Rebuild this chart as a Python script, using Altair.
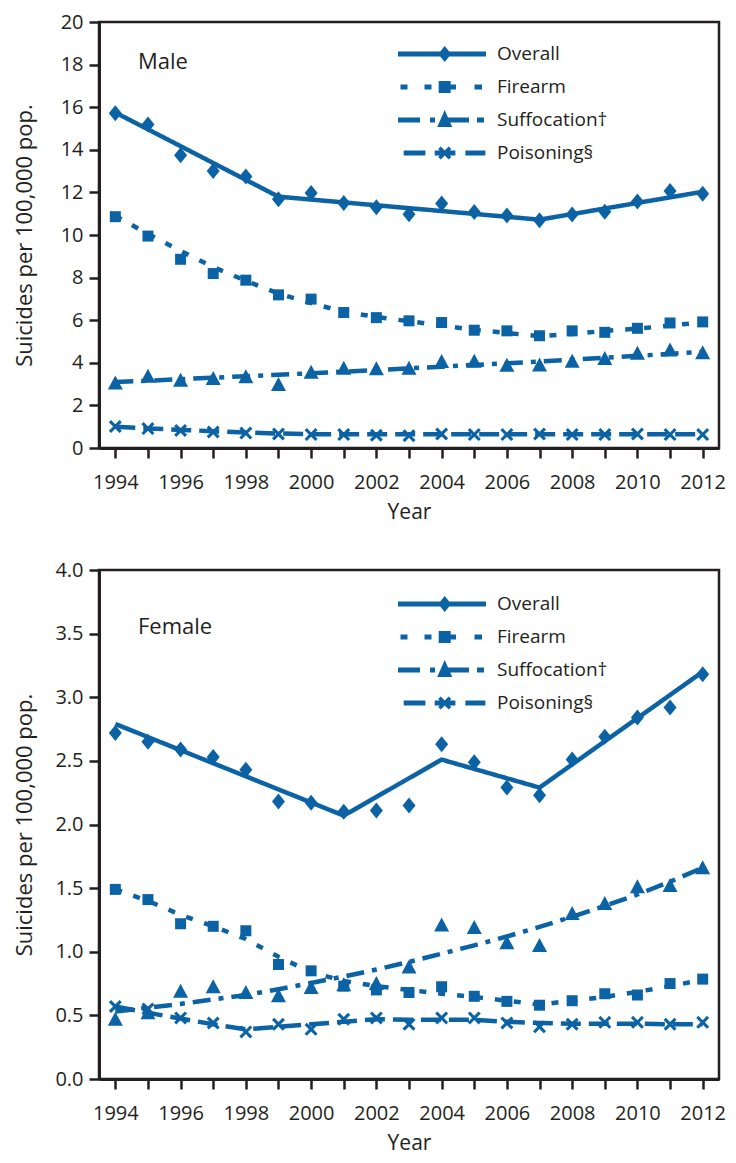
import altair as alt
import pandas as pd

# ---------------- data ----------------
YEARS = list(range(1994, 2013))
SERIES = ["Overall", "Firearm", "Suffocation\u2020", "Poisoning\u00a7"]

# Male, observed rates
male_overall = [15.72, 15.19, 13.75, 13.0, 12.75, 11.68, 11.97, 11.5, 11.3, 10.97, 11.48, 11.08, 10.92, 10.69, 10.96, 11.09, 11.57, 12.06, 11.94]
male_firearm = [10.86, 9.95, 8.86, 8.19, 7.88, 7.19, 6.99, 6.36, 6.12, 5.97, 5.89, 5.53, 5.5, 5.27, 5.5, 5.43, 5.62, 5.87, 5.92]
male_suffocation = [3.05, 3.37, 3.18, 3.26, 3.34, 2.98, 3.56, 3.75, 3.72, 3.75, 4.06, 4.07, 3.88, 3.9, 4.07, 4.2, 4.45, 4.6, 4.47]
male_poisoning = [1.01, 0.91, 0.82, 0.75, 0.7, 0.66, 0.63, 0.63, 0.6, 0.58, 0.66, 0.63, 0.63, 0.66, 0.63, 0.63, 0.66, 0.63, 0.63]

# Male, fitted trends
male_overall_trend_years = [1994, 1999, 2007, 2012]
male_overall_trend = [15.75, 11.8, 10.72, 12.03]
male_firearm_trend = [10.9, 10.05, 9.25, 8.5, 7.85, 7.25, 6.8, 6.4, 6.15, 5.95, 5.75, 5.55, 5.4, 5.25, 5.35, 5.5, 5.6, 5.75, 5.9]
male_suffocation_trend = [3.1, 3.16, 3.23, 3.3, 3.37, 3.44, 3.51, 3.58, 3.66, 3.74, 3.82, 3.9, 3.98, 4.06, 4.15, 4.24, 4.33, 4.42, 4.52]
male_poisoning_trend = [1.0, 0.92, 0.85, 0.79, 0.73, 0.68, 0.65, 0.645, 0.645, 0.64, 0.64, 0.64, 0.64, 0.64, 0.64, 0.64, 0.64, 0.64, 0.64]

# Female, observed rates
female_overall = [2.72, 2.65, 2.59, 2.53, 2.43, 2.18, 2.17, 2.1, 2.11, 2.15, 2.63, 2.49, 2.29, 2.23, 2.51, 2.69, 2.84, 2.92, 3.18]
female_firearm = [1.49, 1.41, 1.22, 1.2, 1.165, 0.9, 0.85, 0.73, 0.7, 0.68, 0.725, 0.65, 0.61, 0.58, 0.615, 0.67, 0.66, 0.75, 0.785]
female_suffocation = [0.47, 0.52, 0.69, 0.725, 0.68, 0.655, 0.72, 0.74, 0.75, 0.88, 1.21, 1.19, 1.07, 1.05, 1.3, 1.38, 1.51, 1.52, 1.66]
female_poisoning = [0.57, 0.55, 0.48, 0.44, 0.37, 0.43, 0.39, 0.47, 0.48, 0.43, 0.48, 0.48, 0.44, 0.41, 0.43, 0.445, 0.445, 0.43, 0.445]

# Female, fitted trends
female_overall_trend_years = [1994, 2001, 2004, 2007, 2012]
female_overall_trend = [2.79, 2.07, 2.51, 2.29, 3.2]
female_firearm_trend = [1.49, 1.4, 1.29, 1.2, 1.1, 0.96, 0.84, 0.77, 0.73, 0.7, 0.67, 0.645, 0.615, 0.585, 0.615, 0.645, 0.685, 0.73, 0.78]
female_suffocation_trend = [0.53, 0.56, 0.59, 0.625, 0.66, 0.705, 0.755, 0.805, 0.86, 0.92, 0.985, 1.05, 1.12, 1.195, 1.275, 1.36, 1.45, 1.55, 1.66]
female_poisoning_trend = [0.57, 0.52, 0.475, 0.43, 0.39, 0.41, 0.43, 0.45, 0.47, 0.465, 0.465, 0.465, 0.45, 0.44, 0.435, 0.435, 0.435, 0.43, 0.43]

# ---------------- styling ----------------
BLUE = "#0b62a5"
INK = "#231f20"
FONT = "Open Sans"
PLOT_W = 620


def n(v):
    return f"{v:.4f}".rstrip("0").rstrip(".")


def p_rect(x0, x1, hh, u, ox):
    X = lambda x: n((x - ox) / u)
    return f"M{X(x0)},{n(-hh / u)}H{X(x1)}V{n(hh / u)}H{X(x0)}Z"


def p_diamond(cx, hw, hh, u, ox):
    c = (cx - ox) / u
    return (f"M{n(c)},{n(-hh / u)}L{n(c + hw / u)},0L{n(c)},{n(hh / u)}"
            f"L{n(c - hw / u)},0Z")


def p_square(cx, h, u, ox):
    return p_rect(cx - h, cx + h, h, u, ox)


def p_tri(cx, hw, top, bottom, u, ox):
    c = (cx - ox) / u
    return (f"M{n(c)},{n(-top / u)}L{n(c + hw / u)},{n(bottom / u)}"
            f"L{n(c - hw / u)},{n(bottom / u)}Z")


def p_x(cx, h, d, u, ox):
    c = (cx - ox) / u
    a, b = h / u, d / u
    pts = [(-a, -a + b), (-a + b, -a), (0, -b), (a - b, -a), (a, -a + b), (b, 0),
           (a, a - b), (a - b, a), (0, b), (-a + b, a), (-a, a - b), (-b, 0)]
    return "M" + "L".join(f"{n(c + px)},{n(py)}" for px, py in pts) + "Z"


# chart markers (all drawn with size 225 -> 7.5 px per path unit)
MU = 7.5
MARKERS = [
    p_diamond(0, 6.5, 8, MU, 0),
    p_square(0, 5.5, MU, 0),
    p_tri(0, 7.5, 7.5, 6.5, MU, 0),
    p_x(0, 6.5, 2.2, MU, 0),
]

# legend symbols: an 88 px line sample with its marker, drawn from a 20 px symbol
# (size 400 -> 10 px per path unit, symbol centre 10 px from the entry's left edge)
LS = 20
LU = LS / 2
OX = LS / 2
T = 2.6
LEGEND_SYMBOLS = [
    p_rect(0, 88, T, LU, OX) + p_diamond(46.7, 6.5, 8, LU, OX),
    p_rect(2.5, 9.5, T, LU, OX) + p_rect(26.5, 33.5, T, LU, OX) + p_rect(51, 58, T, LU, OX)
    + p_rect(76.5, 84, T, LU, OX) + p_square(46.7, 6, LU, OX),
    p_rect(0, 22, T, LU, OX) + p_rect(32, 37, T, LU, OX) + p_rect(47, 71, T, LU, OX)
    + p_rect(79, 86, T, LU, OX) + p_tri(46.7, 7.5, 10, 7, LU, OX),
    p_rect(5.7, 27.4, T, LU, OX) + p_rect(36.7, 57.4, T, LU, OX) + p_rect(67.4, 87.4, T, LU, OX)
    + p_x(46.7, 6.5, 2.5, LU, OX),
]

DASHES = [[1, 0], [7, 12], [18, 8, 5, 8], [20, 8]]


def long_points(cols):
    rows = []
    for s, vals in zip(SERIES, cols):
        for yr, v in zip(YEARS, vals):
            rows.append({"year": yr, "value": v, "series": s})
    return pd.DataFrame(rows)


def long_trends(overall_years, overall_vals, others):
    rows = [{"year": yr, "value": v, "series": SERIES[0]} for yr, v in zip(overall_years, overall_vals)]
    for s, vals in zip(SERIES[1:], others):
        for yr, v in zip(YEARS, vals):
            rows.append({"year": yr, "value": v, "series": s})
    return pd.DataFrame(rows)


def panel(points, trends, label, y_max, y_step, y_fmt, height, title_dy, legend_y):
    y_vals = [round(i * y_step, 2) for i in range(int(round(y_max / y_step)) + 1)]
    x = alt.X(
        "year:Q",
        scale=alt.Scale(domain=[1993.5, 2012.5], nice=False, zero=False),
        axis=alt.Axis(values=YEARS, format="d", title="Year",
                      labelExpr="datum.value % 2 == 0 ? datum.label : ''",
                      labelFlush=False, labelOverlap=False, labelPadding=14,
                      titlePadding=9),
    )
    y = alt.Y(
        "value:Q",
        scale=alt.Scale(domain=[0, y_max], nice=False, zero=True),
        axis=alt.Axis(values=y_vals, format=y_fmt, title="Suicides per 100,000 pop.",
                      labelPadding=6, titleX=-75, titleY=height / 2,
                      titleBaseline="middle", titleAlign="center", titleAngle=270),
    )
    lines = alt.Chart(trends).mark_line(strokeWidth=4.5, color=BLUE, strokeCap="butt").encode(
        x=x, y=y,
        strokeDash=alt.StrokeDash("series:N", scale=alt.Scale(domain=SERIES, range=DASHES), legend=None),
    )
    pts = alt.Chart(points).mark_point(filled=True, opacity=1, strokeWidth=0, color=BLUE, size=225).encode(
        x=x, y=y,
        shape=alt.Shape("series:N", scale=alt.Scale(domain=SERIES, range=MARKERS), legend=None),
    )
    leg = alt.Chart(points).transform_filter("false").mark_point(
        filled=True, opacity=1, strokeWidth=0, color=BLUE
    ).encode(
        shape=alt.Shape(
            "series:N",
            scale=alt.Scale(domain=SERIES, range=LEGEND_SYMBOLS),
            legend=alt.Legend(title=None, orient="none", legendX=299, legendY=legend_y,
                              symbolSize=LS * LS, symbolStrokeWidth=0, symbolFillColor=BLUE,
                              labelFont=FONT, labelFontSize=19, labelColor=INK,
                              labelOffset=79, rowPadding=13, padding=0),
        ),
    )
    return alt.layer(lines, pts, leg).resolve_scale(shape="independent").resolve_legend(
        shape="independent"
    ).properties(
        width=PLOT_W, height=height,
        title=alt.TitleParams(label, anchor="start", frame="group", orient="top", offset=0,
                              dx=39, dy=title_dy, baseline="middle", font=FONT, fontSize=22,
                              fontWeight="normal", color=INK),
    )


male_pts = long_points([male_overall, male_firearm, male_suffocation, male_poisoning])
male_tr = long_trends(male_overall_trend_years, male_overall_trend,
                      [male_firearm_trend, male_suffocation_trend, male_poisoning_trend])
female_pts = long_points([female_overall, female_firearm, female_suffocation, female_poisoning])
female_tr = long_trends(female_overall_trend_years, female_overall_trend,
                        [female_firearm_trend, female_suffocation_trend, female_poisoning_trend])

male = panel(male_pts, male_tr, "Male", 20, 2, "d", 426, 72, 22)
female = panel(female_pts, female_tr, "Female", 4.0, 0.5, ".1f", 509, 89, 24)

chart = alt.vconcat(male, female, spacing=34).resolve_scale(
    y="independent", shape="independent", strokeDash="independent"
).resolve_legend(shape="independent").properties(
    padding={"left": 3, "top": 2, "right": 0, "bottom": 0}
).configure_view(stroke=INK, strokeWidth=2.5).configure_axis(
    domainColor=INK, domainWidth=3, tickColor=INK, tickWidth=2.5, tickSize=10,
    labelFont=FONT, labelFontSize=20, labelColor=INK,
    titleFont=FONT, titleFontSize=21, titleFontWeight="normal", titleColor=INK, grid=False,
).configure_axisY(titleFontSize=22)

chart.save("out.html", embed_options={"renderer": "svg", "actions": False})
